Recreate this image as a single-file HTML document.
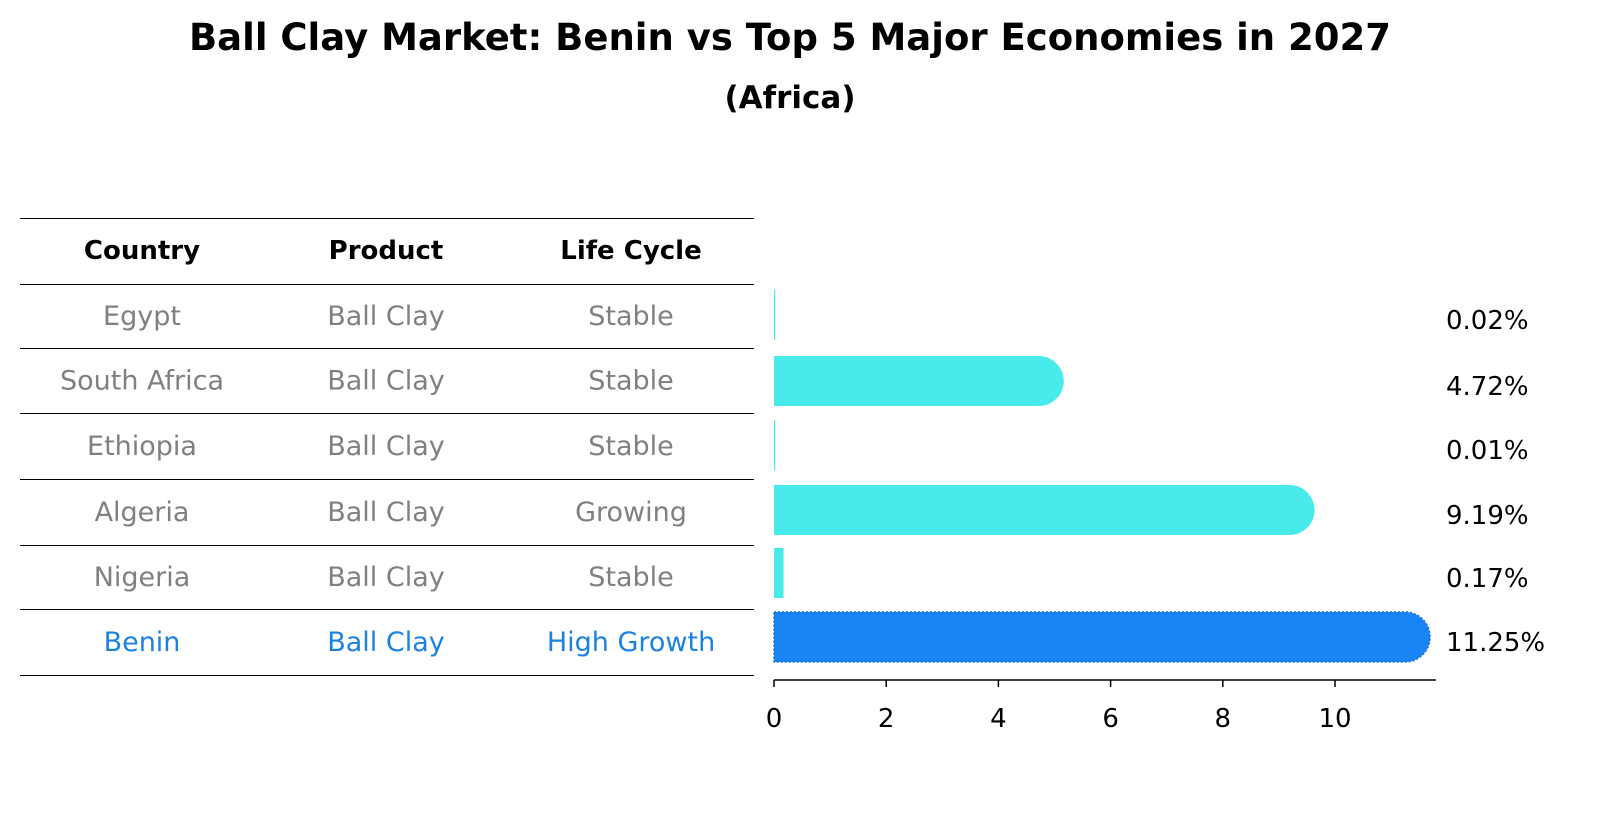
<!DOCTYPE html>
<html><head><meta charset="utf-8">
<style>
body{margin:0;background:#fff;font-family:"Liberation Sans","DejaVu Sans",sans-serif;}
svg text{font-family:"DejaVu Sans","Liberation Sans",sans-serif;}
</style></head>
<body>
<svg id="chart" width="1604" height="823" xmlns="http://www.w3.org/2000/svg">
<text x="790" y="50" text-anchor="middle" font-size="37" font-weight="bold">Ball Clay Market: Benin vs Top 5 Major Economies in 2027</text>
<text x="790" y="108" text-anchor="middle" font-size="31" font-weight="bold">(Africa)</text>
<g id="table"></g>
<g id="bars"></g>
</svg>
<script>
const countries=["Egypt","South Africa","Ethiopia","Algeria","Nigeria","Benin"];
const products=["Ball Clay","Ball Clay","Ball Clay","Ball Clay","Ball Clay","Ball Clay"];
const lifeCycles=["Stable","Stable","Stable","Growing","Stable","High Growth"];
const values=[0.02,4.72,0.01,9.19,0.17,11.25];
const valueLabels=["0.02%","4.72%","0.01%","9.19%","0.17%","11.25%"];
const ticks=[0,2,4,6,8,10];
const headers=["Country","Product","Life Cycle"];

const NS="http://www.w3.org/2000/svg";
function mk(tag,attrs,parent,text){const e=document.createElementNS(NS,tag);for(const k in attrs)e.setAttribute(k,attrs[k]);if(text!==undefined)e.textContent=text;parent.appendChild(e);return e;}
const tbl=document.getElementById('table');
const colX=[142,386,631];
const lineY=[218,284,348,413,479,545,609,675];
lineY.forEach((y,i)=>{const l=mk('line',{x1:20,x2:754,y1:y+0.5,y2:y+0.5,stroke:'#000','stroke-width':1},tbl);

});
headers.forEach((h,i)=>{const t=mk('text',{x:colX[i],y:259,'text-anchor':'middle','font-size':26,'font-weight':'bold'},tbl,h);

});
const rowC=i=>(lineY[i+1]+lineY[i+2])/2;
countries.forEach((c,i)=>{
 const col=i===countries.length-1?'#1a82e0':'#808080';
 [c,products[i],lifeCycles[i]].forEach((v,j)=>{const t=mk('text',{x:colX[j],y:rowC(i)+9,'text-anchor':'middle','font-size':27,fill:col},tbl,v);
 
 });
});
const bars=document.getElementById('bars');
const x0=774,pxPer=56.1;
const xs=v=>x0+v*pxPer;
const barCenters=[315,381,445,510,573,637];
const bh=50;
values.forEach((v,i)=>{
 const isB=i===values.length-1;
 const w=xs(v)-x0;
 const fill=isB?'#1884f5':'#48ebea';
 const r=bh/2;const yc=barCenters[i];
 let el;
 if(w>r){
  const x1=xs(v);
  el=mk('path',{d:`M${x0},${yc-r} L${x1},${yc-r} A${r},${r} 0 0 1 ${x1},${yc+r} L${x0},${yc+r} Z`,fill:fill},bars);
  if(isB){el.setAttribute('stroke','#1470d8');el.setAttribute('stroke-dasharray','2,2');el.setAttribute('stroke-width','1.5');}
 } else {
  el=mk('rect',{x:x0,y:yc-r,width:Math.max(w,1.2),height:bh,fill:fill},bars);
 }
 
 
 const t=mk('text',{x:1446,y:yc+14,'font-size':26},bars,valueLabels[i]);
 
 
});
const ax=mk('line',{x1:x0,x2:1436,y1:680,y2:680,stroke:'#000','stroke-width':1.5},bars);


ticks.forEach(t=>{
 const tk=mk('line',{x1:xs(t),x2:xs(t),y1:680,y2:687,stroke:'#000','stroke-width':1.5},bars);
 
 
 const tl=mk('text',{x:xs(t),y:727,'text-anchor':'middle','font-size':26},bars,String(t));
 
 
});
</script>
</body></html>
